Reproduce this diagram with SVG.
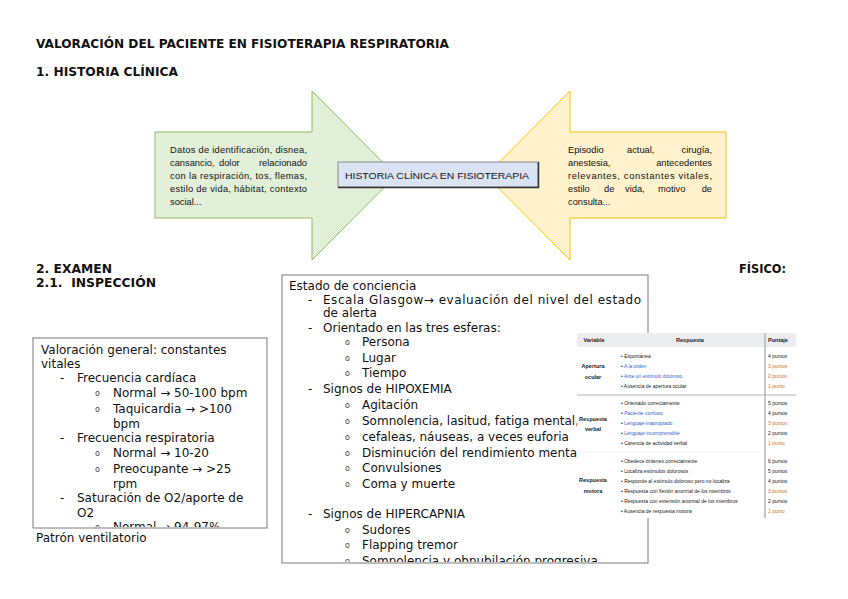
<svg xmlns="http://www.w3.org/2000/svg" width="848" height="599" viewBox="0 0 848 599">
<style>
.h{font-family:"DejaVu Sans",sans-serif;font-weight:bold;font-size:12.5px;fill:#111}
.hc{font-family:"DejaVu Sans Condensed","DejaVu Sans",sans-serif;font-weight:bold;font-size:12.5px;fill:#111}
.ar{font-family:"Liberation Sans",Arial,sans-serif;font-size:9.3px;fill:#111}
.b{font-family:"DejaVu Sans",sans-serif;font-size:12px;fill:#111}
.o{font-family:"DejaVu Sans",sans-serif;font-size:8px;fill:#444}
.t{font-family:"Liberation Sans",Arial,sans-serif;font-size:5px;fill:#202122}
.tb{font-family:"Liberation Sans",Arial,sans-serif;font-size:5.5px;font-weight:bold;fill:#202122}
.lk{fill:#3366cc}
.or{fill:#c8752a}
</style>
<defs>
<clipPath id="cl"><rect x="33" y="338" width="234" height="189"/></clipPath>
<clipPath id="cm"><rect x="282" y="275" width="366" height="287"/></clipPath>
</defs>

<text class="h" x="36" y="48" textLength="413" lengthAdjust="spacingAndGlyphs">VALORACIÓN DEL PACIENTE EN FISIOTERAPIA RESPIRATORIA</text>
<text class="h" x="36" y="76" textLength="142" lengthAdjust="spacingAndGlyphs">1. HISTORIA CLÍNICA</text>

<g id="arrow-left">
<polygon points="155,132 312,132 312,91 396,175.5 312,260 312,218 155,218" fill="#e2efd9" stroke="#8cbd62" stroke-width="1"/>
<text class="ar" x="170" y="152.5" textLength="137" lengthAdjust="spacing">Datos de identificación, disnea,</text>
<text class="ar" x="170" y="165.5">cansancio,</text>
<text class="ar" x="219" y="165.5">dolor</text>
<text class="ar" x="307" y="165.5" text-anchor="end">relacionado</text>
<text class="ar" x="170" y="178.5" textLength="137" lengthAdjust="spacing">con la respiración, tos, flemas,</text>
<text class="ar" x="170" y="191.5" textLength="137" lengthAdjust="spacing">estilo de vida, hábitat, contexto</text>
<text class="ar" x="170" y="204.5">social...</text>
</g>

<g id="arrow-right">
<polygon points="726,132 570,132 570,91 486,175.5 570,260 570,218 726,218" fill="#fff2cc" stroke="#ffc000" stroke-width="1"/>
<text class="ar" y="152.5"><tspan x="568">Episodio</tspan><tspan x="627">actual,</tspan></text>
<text class="ar" x="712" y="152.5" text-anchor="end">cirugía,</text>
<text class="ar" x="568" y="165.5">anestesia,</text>
<text class="ar" x="712" y="165.5" text-anchor="end">antecedentes</text>
<text class="ar" x="568" y="178.5" textLength="144" lengthAdjust="spacing">relevantes, constantes vitales,</text>
<text class="ar" y="191.5"><tspan x="568">estilo</tspan><tspan x="604">de</tspan><tspan x="625">vida,</tspan><tspan x="658">motivo</tspan></text>
<text class="ar" x="712" y="191.5" text-anchor="end">de</text>
<text class="ar" x="568" y="204.5">consulta...</text>
</g>

<g id="center-box">
<rect x="338" y="162" width="200" height="25" fill="#dae3f3" stroke="#8a8a8a" stroke-width="1"/>
<polyline points="538.5,162 538.5,187.5 338,187.5" fill="none" stroke="#333" stroke-width="1.5"/>
<text class="ar" x="345" y="178.5" font-size="10.3" textLength="184" lengthAdjust="spacingAndGlyphs">HISTORIA CLÍNICA EN FISIOTERAPIA</text>
</g>

<text class="hc" x="36" y="272.5" textLength="76" lengthAdjust="spacingAndGlyphs">2. EXAMEN</text>
<text class="hc" x="36" y="286.5" textLength="120" lengthAdjust="spacingAndGlyphs" xml:space="preserve">2.1.  INSPECCIÓN</text>
<text class="hc" x="739" y="272.5" textLength="47" lengthAdjust="spacingAndGlyphs">FÍSICO:</text>

<g id="box-vitales">
<rect x="33" y="338" width="234" height="190" fill="#fff" stroke="#7a7a7a" stroke-width="1"/>
<g clip-path="url(#cl)">
<text class="b" x="41" y="354">Valoración general: constantes</text>
<text class="b" x="41" y="367.5">vitales</text>
<text class="b" x="60" y="382">-</text><text class="b" x="77" y="382">Frecuencia cardíaca</text>
<text class="o" x="95" y="396">o</text><text class="b" x="113" y="397">Normal → 50-100 bpm</text>
<text class="o" x="95" y="411.5">o</text><text class="b" x="113" y="412.5">Taquicardia → &gt;100</text>
<text class="b" x="113" y="427.5">bpm</text>
<text class="b" x="60" y="442">-</text><text class="b" x="77" y="442">Frecuencia respiratoria</text>
<text class="o" x="95" y="456">o</text><text class="b" x="113" y="457">Normal → 10-20</text>
<text class="o" x="95" y="471.5">o</text><text class="b" x="113" y="472.5">Preocupante → &gt;25</text>
<text class="b" x="113" y="487.5">rpm</text>
<text class="b" x="60" y="502">-</text><text class="b" x="77" y="502">Saturación de O2/aporte de</text>
<text class="b" x="77" y="517">O2</text>
<text class="o" x="95" y="529.5">o</text><text class="b" x="113" y="531">Normal → 94-97%</text>
</g>
</g>
<text class="b" x="36" y="541.5">Patrón ventilatorio</text>

<g id="box-conciencia">
<rect x="282" y="275" width="366" height="288" fill="#fff" stroke="#7a7a7a" stroke-width="1"/>
<g clip-path="url(#cm)">
<text class="b" x="289" y="289.5">Estado de conciencia</text>
<text class="b" x="308" y="303.5">-</text><text class="b" x="323" y="303.5" textLength="318" lengthAdjust="spacing">Escala Glasgow→ evaluación del nivel del estado</text>
<text class="b" x="323" y="317">de alerta</text>
<text class="b" x="308" y="331.5">-</text><text class="b" x="323" y="331.5">Orientado en las tres esferas:</text>
<text class="o" x="345" y="345">o</text><text class="b" x="362" y="345.5">Persona</text>
<text class="o" x="345" y="360.5">o</text><text class="b" x="362" y="361.5">Lugar</text>
<text class="o" x="345" y="376">o</text><text class="b" x="362" y="377">Tiempo</text>
<text class="b" x="308" y="393">-</text><text class="b" x="323" y="393">Signos de HIPOXEMIA</text>
<text class="o" x="345" y="408">o</text><text class="b" x="362" y="409">Agitación</text>
<text class="o" x="345" y="424">o</text><text class="b" x="362" y="425">Somnolencia, lasitud, fatiga mental,</text>
<text class="o" x="345" y="440">o</text><text class="b" x="362" y="441">cefaleas, náuseas, a veces euforia</text>
<text class="o" x="345" y="455.5">o</text><text class="b" x="362" y="456.5">Disminución del rendimiento mental</text>
<text class="o" x="345" y="471">o</text><text class="b" x="362" y="472">Convulsiones</text>
<text class="o" x="345" y="487">o</text><text class="b" x="362" y="488">Coma y muerte</text>
<text class="b" x="308" y="518">-</text><text class="b" x="323" y="518">Signos de HIPERCAPNIA</text>
<text class="o" x="345" y="532.5">o</text><text class="b" x="362" y="533.5">Sudores</text>
<text class="o" x="345" y="548">o</text><text class="b" x="362" y="549">Flapping tremor</text>
<text class="o" x="345" y="563.5">o</text><text class="b" x="362" y="564.5">Somnolencia y obnubilación progresiva</text>
</g>
</g>

<g id="tabla-glasgow">
<rect x="577" y="333" width="219" height="185" fill="#fff"/>
<rect x="577" y="333" width="219" height="14" fill="#eaecf0"/>
<line x1="765" y1="333" x2="765" y2="518" stroke="#b0b4b9" stroke-width="1.5"/>
<line x1="577" y1="395" x2="796" y2="395" stroke="#b0b4b9" stroke-width="1"/>
<line x1="577" y1="452" x2="765" y2="452" stroke="#f0f0f0" stroke-width="0.8"/>
<text class="tb" x="594" y="342" text-anchor="middle">Variable</text>
<text class="tb" x="690" y="342" text-anchor="middle">Respuesta</text>
<text class="tb" x="768" y="342">Puntaje</text>

<text class="tb" x="593" y="368" text-anchor="middle">Apertura</text>
<text class="tb" x="593" y="378.5" text-anchor="middle">ocular</text>
<text class="tb" x="593" y="420.5" text-anchor="middle">Respuesta</text>
<text class="tb" x="593" y="431" text-anchor="middle">verbal</text>
<text class="tb" x="593" y="482" text-anchor="middle">Respuesta</text>
<text class="tb" x="593" y="493" text-anchor="middle">motora</text>

<text class="t" x="621" y="358">•  Espontánea</text>
<text class="t" x="621" y="367.5">•  <tspan class="lk">A la orden</tspan></text>
<text class="t" x="621" y="377.5">•  <tspan class="lk">Ante un estímulo doloroso</tspan></text>
<text class="t" x="621" y="387.5">•  Ausencia de apertura ocular</text>

<text class="t" x="621" y="405">•  Orientado correctamente</text>
<text class="t" x="621" y="415">•  <tspan class="lk">Paciente confuso</tspan></text>
<text class="t" x="621" y="425">•  <tspan class="lk">Lenguaje inapropiado</tspan></text>
<text class="t" x="621" y="435">•  <tspan class="lk">Lenguaje incomprensible</tspan></text>
<text class="t" x="621" y="445">•  Carencia de actividad verbal</text>

<text class="t" x="621" y="463">•  Obedece órdenes correctamente</text>
<text class="t" x="621" y="473">•  Localiza estímulos dolorosos</text>
<text class="t" x="621" y="483">•  Responde al estímulo doloroso pero no localiza</text>
<text class="t" x="621" y="493">•  Respuesta con flexión anormal de los miembros</text>
<text class="t" x="621" y="503">•  Respuesta con extensión anormal de los miembros</text>
<text class="t" x="621" y="513">•  Ausencia de respuesta motora</text>

<text class="t" x="768" y="358">4 puntos</text>
<text class="t or" x="768" y="367.5">3 puntos</text>
<text class="t or" x="768" y="377.5">2 puntos</text>
<text class="t or" x="768" y="387.5">1 punto</text>
<text class="t" x="768" y="405">5 puntos</text>
<text class="t" x="768" y="415">4 puntos</text>
<text class="t or" x="768" y="425">3 puntos</text>
<text class="t" x="768" y="435">2 puntos</text>
<text class="t or" x="768" y="445">1 punto</text>
<text class="t" x="768" y="463">6 puntos</text>
<text class="t" x="768" y="473">5 puntos</text>
<text class="t" x="768" y="483">4 puntos</text>
<text class="t or" x="768" y="493">3 puntos</text>
<text class="t" x="768" y="503">2 puntos</text>
<text class="t or" x="768" y="513">1 punto</text>
</g>
</svg>
